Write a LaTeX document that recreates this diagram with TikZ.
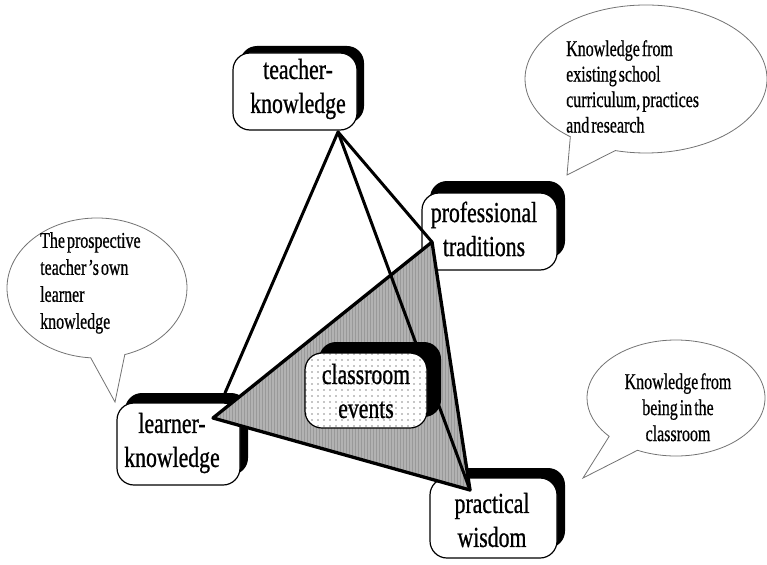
\documentclass[tikz,border=0pt]{standalone}
\usepackage{fontspec}
\setmainfont{Liberation Serif}
\newfontfamily\boxfont[FakeStretch=0.75,FakeBold=0.8]{Liberation Serif}
\newfontfamily\notefont[FakeStretch=0.71,FakeBold=0.6,WordSpace=0.5]{Liberation Serif}
\usetikzlibrary{shapes.callouts,patterns.meta,shadows}

\tikzset{
  panel/.style={draw=black, line width=1.2pt, fill=white, rounded corners=17pt,
    inner sep=0pt, outer sep=0pt},
  boxlabel/.style={inner sep=0pt, align=center,
    font=\boxfont\fontsize{29}{34}\selectfont},
  bubble/.style={ellipse callout, draw=black!55, line width=0.8pt, fill=white,
    inner sep=0pt, outer sep=0pt},
  notelabel/.style={inner sep=0pt, font=\notefont\fontsize{22.5}{#1}\selectfont},
  spoke/.style={line width=3pt, line cap=round},
  wedge/.style={draw=black, line width=3.3pt, line join=round,
    preaction={fill=black!40},
    pattern={Lines[angle=90, distance=3pt, line width=1.2pt]}, pattern color=black!30},
}

\begin{document}
\begin{tikzpicture}[x=1pt, y=-1pt]
\useasboundingbox (0,0) rectangle (767,564);

% speech bubbles
\node[bubble, minimum width=242pt, minimum height=148pt,
  callout absolute pointer={(567,175)}, callout pointer arc=24] (schoolnote) at (646,79) {};
\node[notelabel=25.5, anchor=north west, align=left] (schooltext) at (566,40)
  {Knowledge from\\existing school\\curriculum, practices\\and research};

\node[bubble, minimum width=180pt, minimum height=140pt,
  callout absolute pointer={(115,402)}, callout pointer arc=22] (ownnote) at (97,288) {};
\node[notelabel=27, anchor=north west, align=left] (owntext) at (40,232)
  {The prospective\\teacher ’s own\\learner\\knowledge};

\node[bubble, minimum width=178pt, minimum height=116pt,
  callout absolute pointer={(583,478)}, callout pointer arc=23] (roomnote) at (676,398) {};
\node[notelabel=26, anchor=north, align=center] (roomtext) at (678,373)
  {Knowledge from\\being in the\\classroom};

% the four knowledge boxes
\node[panel, general shadow={fill=black, shadow xshift=7pt, shadow yshift=7pt},
  minimum width=124pt, minimum height=77pt] (teacher) at (295,91.5) {};
\node[boxlabel] (teacherlbl) at (298,89) {teacher-\\knowledge};

\node[panel, general shadow={fill=black, shadow xshift=8pt, shadow yshift=12pt},
  minimum width=135pt, minimum height=77pt] (prof) at (489.5,231.5) {};

\node[panel, general shadow={fill=black, shadow xshift=8pt, shadow yshift=10pt},
  minimum width=123pt, minimum height=82pt] (learner) at (178.5,444) {};

\node[panel, general shadow={fill=black, shadow xshift=8pt, shadow yshift=10pt},
  minimum width=127pt, minimum height=80pt] (practical) at (493.5,518) {};

% corners of the shaded triangle and the spoke ends
\coordinate (apex) at (338,132);
\coordinate (tv) at (432,242);
\coordinate (lv) at (213,418);
\coordinate (pv) at (470,490);
\coordinate (lt) at (225,393);

\filldraw[wedge] (lv) -- (tv) -- (pv) -- cycle;

\draw[spoke] (apex) -- (lt);
\draw[spoke] (apex) -- (tv);
\draw[spoke] (apex) -- (pv);

\node[boxlabel] (proflbl) at (484,229) {professional\\traditions};
\node[boxlabel] (learnerlbl) at (172,443) {learner-\\knowledge};
\node[boxlabel] (practicallbl) at (492,520) {practical\\wisdom};

% classroom events box in the middle
\node[panel, general shadow={fill=black, shadow xshift=14pt, shadow yshift=11pt},
  preaction={fill=white}, pattern={Dots[distance=6pt, radius=0.8pt]}, pattern color=black!45,
  minimum width=122pt, minimum height=75pt] (events) at (366,390.5) {};
\node[boxlabel] (eventslbl) at (366,391) {classroom\\events};
\end{tikzpicture}
\end{document}
